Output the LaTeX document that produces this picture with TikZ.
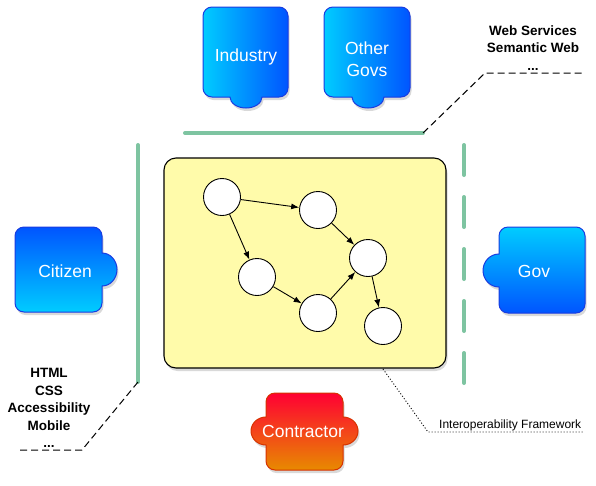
\documentclass[tikz,border=0pt]{standalone}
\usepackage{fontspec}
\setmainfont{Liberation Sans}
\usetikzlibrary{shadows,arrows.meta}

\definecolor{pieceCyan}{RGB}{0,204,255}
\definecolor{pieceBlue}{RGB}{0,85,255}
\definecolor{pieceEdge}{RGB}{25,60,225}
\definecolor{redTop}{RGB}{255,0,51}
\definecolor{orangeBot}{RGB}{232,138,0}
\definecolor{redEdge}{RGB}{215,50,0}
\definecolor{frameYellow}{RGB}{255,251,170}
\definecolor{layerGreen}{RGB}{126,196,161}

\begin{document}
\begin{tikzpicture}[x=1pt,y=-1pt,
    piece/.style={draw=pieceEdge,line width=1pt,drop shadow={opacity=0.3,shadow xshift=1.5pt,shadow yshift=-3pt}},
    actor/.style={text=white,font={\fontsize{17.5}{22}\selectfont},align=center},
    layer/.style={layerGreen,line width=4pt,line cap=round},
    tech/.style={font={\fontsize{13.5}{17.5}\selectfont\bfseries},align=center},
    leader/.style={black,dash pattern=on 7pt off 4pt,line width=1pt},
    vertex/.style={circle,draw,fill=white,line width=0.9pt,minimum size=37pt,inner sep=0pt},
    link/.style={-{Latex[length=8pt,width=6pt]},line width=0.9pt}]

    \useasboundingbox (0,0) rectangle (596,485);

    % puzzle pieces
    \draw[piece,left color=pieceCyan,right color=pieceBlue]
        (212,7) -- (279,7) arc[start angle=-90,end angle=0,radius=9]
        -- (288,88) arc[start angle=0,end angle=90,radius=9]
        -- (262,97) arc[start angle=0,end angle=180,x radius=16,y radius=11]
        -- (212,97) arc[start angle=90,end angle=180,radius=9]
        -- (203,16) arc[start angle=180,end angle=270,radius=9] -- cycle;
    \draw[piece,left color=pieceCyan,right color=pieceBlue]
        (333,7) -- (401,7) arc[start angle=-90,end angle=0,radius=9]
        -- (410,88) arc[start angle=0,end angle=90,radius=9]
        -- (384,97) arc[start angle=0,end angle=180,x radius=16,y radius=11]
        -- (333,97) arc[start angle=90,end angle=180,radius=9]
        -- (324,16) arc[start angle=180,end angle=270,radius=9] -- cycle;
    \draw[piece,top color=pieceBlue,bottom color=pieceCyan]
        (24,227) -- (93,227) arc[start angle=-90,end angle=0,radius=9]
        -- (102,253) arc[start angle=-90,end angle=90,x radius=15,y radius=16.5]
        -- (102,303) arc[start angle=0,end angle=90,radius=9]
        -- (24,312) arc[start angle=90,end angle=180,radius=9]
        -- (15,236) arc[start angle=180,end angle=270,radius=9] -- cycle;
    \draw[piece,top color=pieceCyan,bottom color=pieceBlue]
        (508,227) -- (576,227) arc[start angle=-90,end angle=0,radius=9]
        -- (585,304) arc[start angle=0,end angle=90,radius=9]
        -- (508,313) arc[start angle=90,end angle=180,radius=9]
        -- (499,287) arc[start angle=90,end angle=270,x radius=16,y radius=16.5]
        -- (499,236) arc[start angle=180,end angle=270,radius=9] -- cycle;
    \draw[piece,draw=redEdge,top color=redTop,bottom color=orangeBot]
        (275,393) -- (334,393) arc[start angle=-90,end angle=0,radius=9]
        -- (343,417) arc[start angle=-90,end angle=90,x radius=15,y radius=14]
        -- (343,461) arc[start angle=0,end angle=90,radius=9]
        -- (275,470) arc[start angle=90,end angle=180,radius=9]
        -- (266,445) arc[start angle=90,end angle=270,x radius=15,y radius=14]
        -- (266,402) arc[start angle=180,end angle=270,radius=9] -- cycle;

    \node[actor] (industry)   at (246,57)  {Industry};
    \node[actor] (othergovs)  at (367,59)  {Other\\Govs};
    \node[actor] (citizen)    at (65,271)  {Citizen};
    \node[actor] (gov)        at (534,271) {Gov};
    \node[actor] (contractor) at (303,431) {Contractor};

    % framework layers
    \coordinate (topL)   at (185,133);
    \coordinate (topR)   at (423,133);
    \coordinate (leftT)  at (138,145);
    \coordinate (leftB)  at (138,382);
    \coordinate (rightT) at (464,145);
    \coordinate (rightB) at (464,383);

    \draw[layer] (topL) -- (topR);
    \draw[layer] (leftT) -- (leftB);
    \draw[layer,dash pattern=on 30pt off 22pt] (rightT) -- (rightB);

    % interoperability framework
    \node[draw,fill=frameYellow,line width=1.1pt,rounded corners=12pt,
          minimum width=282pt,minimum height=210pt,
          drop shadow={opacity=0.3,shadow xshift=1.5pt,shadow yshift=-3pt}]
          (framework) at (305,263) {};

    \node[vertex] (a) at (222,197) {};
    \node[vertex] (b) at (318,210) {};
    \node[vertex] (c) at (257,277) {};
    \node[vertex] (d) at (318,313) {};
    \node[vertex] (e) at (368,258) {};
    \node[vertex] (f) at (383,326) {};

    \draw[link] (a) -- (b);
    \draw[link] (a) -- (c);
    \draw[link] (b) -- (e);
    \draw[link] (c) -- (d);
    \draw[link] (d) -- (e);
    \draw[link] (e) -- (f);

    % labels and leaders
    \node[tech] (webtech)  at (533,48)  {Web Services\\Semantic Web\\...};
    \node[tech] (htmltech) at (49,408)  {HTML\\CSS\\Accessibility\\Mobile\\...};
    \node[anchor=base west,inner sep=0pt,font={\fontsize{12}{14}\selectfont}]
          (interop) at (439,428) {Interoperability Framework};

    \coordinate (webKnee)  at (485,73);
    \coordinate (webEnd)   at (583,73);
    \coordinate (htmlKnee) at (82,450);
    \coordinate (htmlEnd)  at (20,450);
    \coordinate (frameFoot) at (383,369);
    \coordinate (interopKnee) at (428,432);
    \coordinate (interopEnd)  at (583,432);

    \draw[leader] (topR) -- (webKnee) -- (webEnd);
    \draw[leader] (leftB) -- (htmlKnee) -- (htmlEnd);
    \draw[dash pattern=on 1pt off 2pt,line width=0.9pt] (frameFoot) -- (interopKnee) -- (interopEnd);

\end{tikzpicture}
\end{document}
